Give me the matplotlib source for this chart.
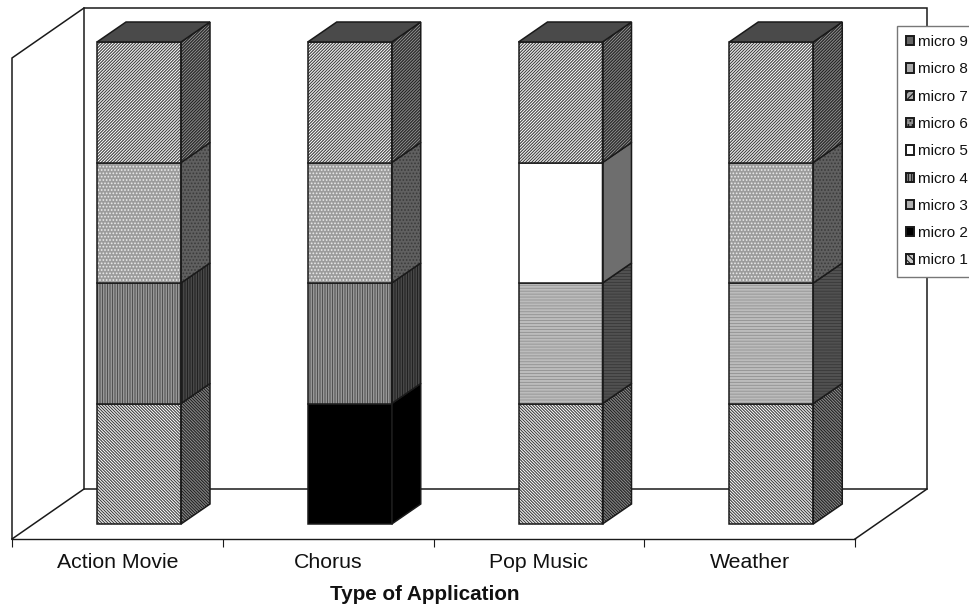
import matplotlib
matplotlib.use('Agg')
import matplotlib.pyplot as plt
from matplotlib.patches import Polygon, Patch

plt.rcParams['font.family'] = ['Liberation Sans', 'DejaVu Sans']
plt.rcParams['hatch.linewidth'] = 0.8

# Data: stacked share of each micro per application
categories = ['Action Movie', 'Chorus', 'Pop Music', 'Weather']
micro_names = ['micro 1', 'micro 2', 'micro 3', 'micro 4', 'micro 5',
               'micro 6', 'micro 7', 'micro 8', 'micro 9']
micro1 = [1, 0, 1, 1]
micro2 = [0, 1, 0, 0]
micro3 = [0, 0, 1, 1]
micro4 = [1, 1, 0, 0]
micro5 = [0, 0, 1, 0]
micro6 = [1, 1, 0, 1]
micro7 = [1, 1, 1, 1]
micro8 = [0, 0, 0, 0]
micro9 = [0, 0, 0, 0]
series = [micro1, micro2, micro3, micro4, micro5, micro6, micro7, micro8, micro9]

# front colour, hatch colour, side colour, side hatch colour and hatch for each series
faces = ['white', 'black', '#f2f2f2', '#d0d0d0', 'white', '#9c9c9c', 'white', '#aaaaaa', '#666666']
hatch_cols = ['#404040', 'black', '#989898', '#505050', 'white', '#ececec', '#404040', '#aaaaaa', '#666666']
sides = ['#8c8c8c', 'black', '#707070', '#666666', '#6e6e6e', '#606060', '#8c8c8c', '#555555', '#444444']
side_hatch = ['#222222', 'black', '#3c3c3c', '#222222', '#6e6e6e', '#3a3a3a', '#222222', '#555555', '#444444']
hatches = ['\\' * 11, None, '-' * 11, '|' * 10, None, '.' * 5, '/' * 11, None, None]

# legend swatches
swatch_faces = ['#cccccc', 'black', '#b0b0b0', '#909090', 'white', '#909090', '#aaaaaa', '#aaaaaa', '#666666']
swatch_hatches = ['\\' * 5, None, None, '|' * 5, None, '.' * 4, '/' * 5, None, None]

line = '#1a1a1a'
w, h = 970, 607
x_unit = 210.75   # pixels per category
y_unit = 120.5    # pixels per unit of value
x_px0, y_px0 = 12, 524

fig = plt.figure(figsize=(w / 100, h / 100), dpi=100)
ax = fig.add_axes([0, 0, 1, 1])
ax.set_xlim(-x_px0 / x_unit, (w - x_px0) / x_unit)
ax.set_ylim((y_px0 - h) / y_unit, y_px0 / y_unit)
for s in ['top', 'left', 'right']:
    ax.spines[s].set_visible(False)

# chart box, depth and height in data units
floor = -15 / y_unit
wall_top = 466 / y_unit
wall_dx = 72 / x_unit
wall_dy = 50 / y_unit
n = len(categories)

wall_lines = [
    ([0, 0, wall_dx, n + wall_dx, n + wall_dx, n],
     [floor, wall_top, wall_top + wall_dy, wall_top + wall_dy, floor + wall_dy, floor]),
    ([0, wall_dx, n + wall_dx], [floor, floor + wall_dy, floor + wall_dy]),
    ([wall_dx, wall_dx], [floor + wall_dy, wall_top + wall_dy]),
]
for xs, ys in wall_lines:
    ax.plot(xs, ys, color=line, lw=1.1, zorder=1, solid_joinstyle='miter')


def face(corners, col, hatch, hatch_col, z):
    # hatch has its own colour, so the outline is a second patch
    ax.add_patch(Polygon(corners, facecolor=col, edgecolor=hatch_col, hatch=hatch, lw=0, zorder=z))
    ax.add_patch(Polygon(corners, fill=False, edgecolor=line, lw=1.1, zorder=z + 0.5))


# bars
bar_left = 85 / x_unit
bar_w = 84 / x_unit
bar_dx = 29 / x_unit
bar_dy = 20 / y_unit

for i in range(n):
    x0 = i + bar_left
    x1 = x0 + bar_w
    base = 0
    for k, vals in enumerate(series):
        v = vals[i]
        if v == 0:
            continue
        top = base + v
        face([(x1, base), (x1 + bar_dx, base + bar_dy), (x1 + bar_dx, top + bar_dy), (x1, top)],
             sides[k], hatches[k], side_hatch[k], 3 + k)
        face([(x0, base), (x1, base), (x1, top), (x0, top)],
             faces[k], hatches[k], hatch_cols[k], 3 + k)
        base = top
    # lid of the stack
    ax.add_patch(Polygon([(x0, base), (x1, base), (x1 + bar_dx, base + bar_dy),
                          (x0 + bar_dx, base + bar_dy)],
                         facecolor='#4a4a4a', edgecolor=line, lw=1.1, zorder=20))

# x axis on the front edge of the floor
ax.spines['bottom'].set_position(('data', floor))
ax.spines['bottom'].set_bounds(0, n)
ax.spines['bottom'].set_color(line)
ax.spines['bottom'].set_linewidth(1.0)
ax.set_yticks([])
ax.set_xticks(range(n + 1))
ax.set_xticklabels([])
ax.set_xticks([i + 0.5 for i in range(n)], minor=True)
ax.set_xticklabels(categories, minor=True, fontsize=15.3, color='#111111')
ax.tick_params(axis='x', which='major', length=6, width=0.8, color=line)
ax.tick_params(axis='x', which='minor', length=0, pad=10)

ax.text(1.96, -(594 - y_px0) / y_unit, 'Type of Application', fontsize=14.9, fontweight='bold',
        ha='center', va='center', color='#111111')

# legend is listed top down and runs off the right edge
handles = [Patch(facecolor=swatch_faces[k], edgecolor=line, lw=1.4, label=micro_names[k],
                 hatch=swatch_hatches[k])
           for k in range(len(series) - 1, -1, -1)]
leg = ax.legend(handles=handles, loc='upper left', bbox_to_anchor=(897 / w, 1 - 26 / h),
                borderaxespad=0, fontsize=11, fancybox=False, framealpha=1,
                edgecolor='#777777', handlelength=0.5, handleheight=0.55,
                handletextpad=0.3, labelspacing=0.87, borderpad=0.6, labelcolor='#111111')
leg.get_frame().set_linewidth(1.0)
leg.set_zorder(30)

plt.savefig('out.png', dpi=100)
